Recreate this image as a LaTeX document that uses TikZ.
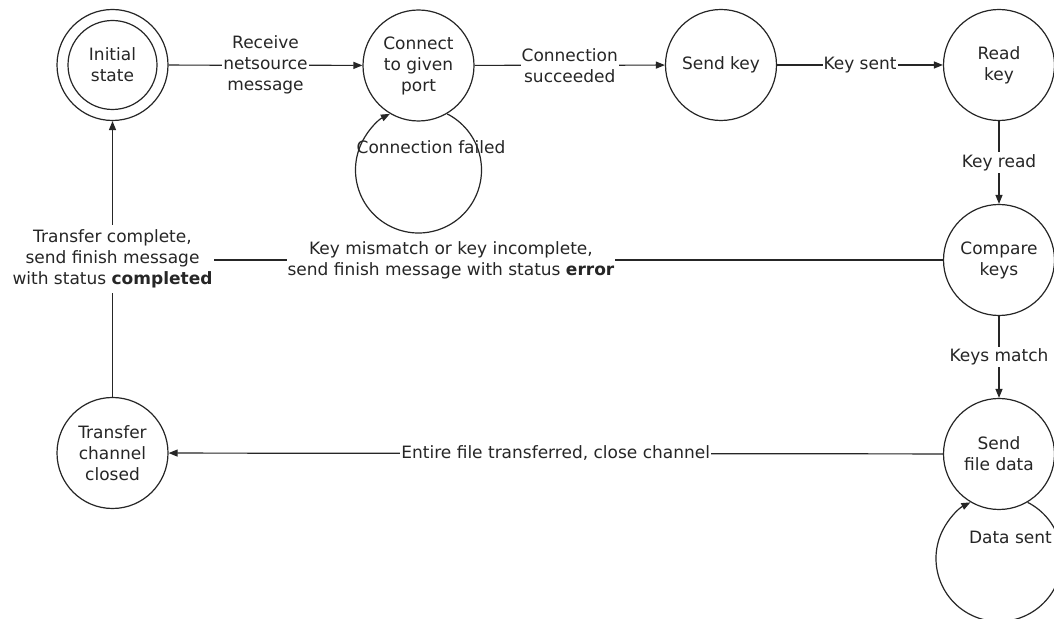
\documentclass[tikz,border=0pt]{standalone}
\usepackage{fontspec}
\setmainfont{DejaVu Sans}
\usetikzlibrary{arrows.meta,calc}
\newcommand\diagfont{\fontsize{17}{21}\selectfont}
\begin{document}
\begin{tikzpicture}[x=1pt,y=1pt,
  state/.style={circle,draw=black!85,line width=1.2pt,minimum size=111pt,inner sep=0pt,align=center,font=\diagfont,text=black!85},
  innerring/.style={circle,draw=black!85,line width=1.2pt,minimum size=89pt,inner sep=0pt},
  elabel/.style={fill=white,inner xsep=1pt,inner ysep=2pt,align=center,font=\diagfont,text=black!85},
  freelabel/.style={inner sep=0pt,align=center,font=\diagfont,text=black!85},
  arr/.style={draw=black!85,line width=1.2pt,-{Triangle[length=9pt,width=7pt]}},
  plainline/.style={draw=black!85,line width=1.2pt}
]
\path[use as bounding box,fill=white] (0,0) rectangle (1054,618);

\node[state] (init) at (112.5,553) {Initial\\state};
\node[innerring] (initin) at (init.center) {};
\node[state] (conn) at (418.5,552.5) {Connect\\to given\\port};
\node[state] (sendkey) at (721,553) {Send key};
\node[state] (readkey) at (999,553) {Read\\key};
\node[state] (cmp) at (999,358) {Compare\\keys};
\node[state] (sfd) at (999,164) {Send\\file data};
\node[state] (tcc) at (112.5,165) {Transfer\\channel\\closed};

\draw[arr] (init) -- node[elabel] (l1) {Receive\\netsource\\message} (conn);
\draw[arr] (conn) -- node[elabel] (l2) {Connection\\succeeded} (sendkey);
\draw[arr] (sendkey) -- node[elabel] (l3) {Key sent} (readkey);
\draw[arr] (readkey) -- node[elabel] (l4) {Key read} (cmp);
\draw[arr] (cmp) -- node[elabel] (l5) {Keys match} (sfd);
\draw[arr] (sfd) -- node[elabel] (l6) {Entire file transferred, close channel} (tcc);
\draw[arr] (tcc) -- node[elabel,inner ysep=5pt] (tc) {Transfer complete,\\send finish message\\with status \textbf{completed}} (init);
\draw[plainline] (cmp.west) -- node[elabel,pos=0.675] (km) {Key mismatch or key incomplete,\\send finish message with status \textbf{error}} (cmp.west -| tc.east);

% self loops
\coordinate (connloop) at ($(conn.center)+(0,-104.5)$);
\draw[arr] ($(connloop)+(63:63)$) arc[start angle=63,end angle=-243,radius=63];
\node[freelabel] (cf) at (431,471) {Connection failed};

\coordinate (sfdloop) at ($(sfd.center)+(0,-104.5)$);
\draw[arr] ($(sfdloop)+(63:63)$) arc[start angle=63,end angle=-243,radius=63];
\node[freelabel,anchor=east] (ds) at (1052,81) {Data sent};
\end{tikzpicture}
\end{document}
